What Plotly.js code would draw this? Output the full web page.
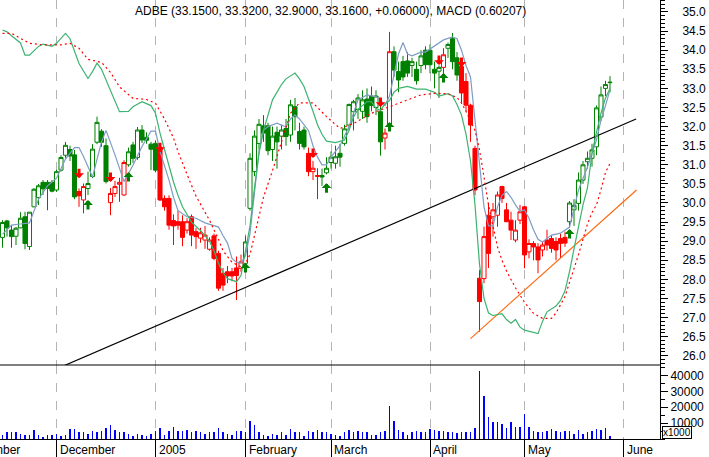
<!DOCTYPE html>
<html><head><meta charset="utf-8">
<script src="https://cdn.plot.ly/plotly-3.0.1.min.js"></script>
<style>html,body{margin:0;padding:0;background:#fff}#chart{width:709px;height:457px}</style>
</head><body><div id="chart"></div>
<script>
// ---------- DATA ----------
const TITLE = 'ADBE (33.1500, 33.3200, 32.9000, 33.1600, +0.06000), MACD (0.60207)';
const FIRST_DATE = '2004-11-12';
const HOLIDAYS = ['2004-11-25','2004-12-24','2005-01-17','2005-02-21','2005-03-25'];
const MONTH_LABELS = ['November','December','2005','February','March','April','May','June'];
const MONTH_KEYS = ['2004-11','2004-12','2005-01','2005-02','2005-03','2005-04','2005-05','2005-06'];

const OPEN = [29.10,29.53,29.29,29.13,29.35,29.64,28.86,29.90,30.14,30.54,30.54,30.54,
30.34,30.86,31.25,31.40,31.26,30.30,30.08,30.38,30.69,31.59,31.88,31.50,30.01,30.25,30.49,30.21,31.00,31.52,31.19,31.91,31.72,31.54,
31.56,31.46,30.12,30.12,29.54,29.51,29.51,29.29,29.64,29.25,29.08,29.03,28.79,29.14,28.68,28.16,28.20,28.20,28.30,28.29,
28.42,29.86,30.82,31.56,32.02,32.02,31.40,31.85,31.75,31.95,31.78,32.52,31.87,31.91,31.30,30.82,30.72,30.72,30.79,
31.06,31.04,31.30,31.56,32.04,32.39,32.45,32.40,32.72,32.80,32.50,32.39,31.70,32.04,33.96,33.44,33.70,33.72,33.60,33.50,33.60,34.00,34.00,
33.50,33.45,33.55,34.05,34.30,33.80,33.57,33.18,32.56,31.43,28.03,28.02,29.68,29.64,29.68,30.43,29.82,29.55,29.03,29.55,
29.90,28.72,28.94,28.85,28.77,29.03,29.07,28.99,29.07,29.10,29.51,29.82,29.99,30.60,31.08,31.17,31.47,32.25,33.00,33.15];
const HIGH = [29.55,29.56,29.40,29.37,29.76,29.77,29.76,30.39,30.50,30.60,30.60,30.60,
30.87,31.25,31.60,31.50,31.39,30.38,30.51,30.82,31.54,32.26,31.93,31.69,30.39,30.58,30.66,31.12,31.45,31.60,31.99,32.04,31.85,31.60,
31.64,31.50,30.20,30.20,29.70,29.80,29.68,29.60,29.70,29.35,29.35,29.40,29.10,29.20,28.75,28.30,28.35,28.30,28.60,28.65,
29.14,31.30,31.90,32.20,32.30,32.10,32.00,32.00,32.05,32.20,32.70,32.75,32.10,32.00,31.45,31.10,30.91,30.90,31.20,
31.35,31.50,31.55,32.05,32.60,32.70,32.85,32.95,33.00,33.05,32.95,32.60,31.95,34.48,34.10,33.70,33.85,33.95,33.80,33.70,34.00,34.10,34.15,
33.70,33.60,34.05,34.20,34.45,33.95,33.70,33.40,32.60,31.50,28.25,29.38,30.00,30.00,30.30,30.45,30.00,29.77,29.55,29.95,
29.92,29.05,29.00,28.95,29.00,29.30,29.15,29.10,29.20,29.25,30.05,30.10,30.80,31.10,31.35,31.55,32.55,33.05,33.20,33.32];
const LOW = [28.83,29.12,28.83,28.90,29.34,28.79,28.77,29.89,29.95,30.21,29.81,30.28,
30.29,30.82,31.18,31.10,30.10,29.90,29.73,30.21,30.65,31.54,31.47,30.51,29.68,30.16,30.03,30.19,30.95,31.05,31.13,31.57,31.55,30.86,
30.80,30.05,29.80,29.30,28.90,29.30,28.87,29.20,28.87,28.80,28.96,28.80,28.75,28.50,27.70,27.70,27.90,27.95,27.46,28.20,
28.40,29.80,30.70,31.40,31.60,31.25,31.10,30.90,31.40,31.50,31.60,31.90,31.40,31.40,30.70,30.60,30.10,30.45,30.75,
30.90,30.90,30.95,31.50,31.90,31.90,32.20,32.20,32.10,32.40,32.30,31.24,31.40,32.00,33.30,32.90,33.20,33.30,33.30,33.10,33.40,33.50,33.40,
33.00,32.75,33.20,33.80,33.50,33.20,32.60,32.40,31.60,30.20,26.63,27.90,28.30,29.12,29.38,30.00,29.50,29.03,28.97,29.45,
28.29,28.55,28.50,28.16,28.60,28.75,28.70,28.50,28.56,28.85,29.35,29.40,29.80,30.50,30.90,30.95,31.25,32.15,32.80,32.90];
const CLOSE = [29.49,29.35,29.12,29.34,29.60,28.94,29.76,30.36,30.45,30.37,30.38,30.31,
30.82,31.19,31.51,31.23,30.16,30.19,30.43,30.51,31.41,32.11,31.59,30.56,30.25,30.43,30.54,31.06,31.34,31.17,31.91,31.65,31.64,31.41,
30.86,30.08,29.90,29.42,29.40,29.42,29.10,29.51,29.16,29.12,29.22,29.16,29.03,28.55,27.77,27.85,28.09,28.09,28.10,28.46,
28.98,31.17,31.75,32.06,31.83,31.37,31.75,31.60,31.91,31.74,32.57,32.26,31.56,31.47,30.82,30.91,30.70,30.68,30.91,
31.20,31.21,31.20,31.94,32.58,32.65,32.75,32.70,32.26,32.55,32.80,31.60,31.83,33.96,33.48,33.22,33.30,33.40,33.70,33.20,33.85,33.62,33.62,
33.40,33.55,33.88,34.15,33.70,33.35,32.88,32.56,32.04,30.34,27.42,29.12,28.68,29.82,30.21,30.12,29.51,29.29,29.29,29.77,
28.64,28.94,28.85,28.51,28.90,28.90,28.81,28.77,28.94,28.95,30.00,29.94,30.60,31.00,31.17,31.39,32.49,32.83,33.10,33.16];
const CANDLE_COLOR = ('gggggggggggg'+'gggggrrgggggrrrrgggggg'+'grrrrrrrrrrrrrrrrrrr'+'ggggggggggggggrrrg'+'gggggggggggggrrgggggggggg'+'grgggrrrrrrrrrrrrrrr'+'rrrrrrrrrgggggggggg').split('');

const VOLUME = [2730,4200,4200,4200,3360,2730,2730,5880,2730,1050,2730,2730,
3360,2100,2730,6510,6510,4200,4200,3360,5250,4200,5250,7140,9030,5880,4200,4620,3360,2100,3360,2730,1680,3360,
5250,7140,2730,5250,7770,5250,5250,5880,4620,5250,4200,3360,4620,4620,7140,4200,3360,2730,5250,5250,
4620,11550,9030,4200,2730,2100,3360,2730,4620,2730,6510,4620,4620,2100,5250,4200,5880,4200,4200,
3360,2730,2100,4200,5880,4200,4830,4620,4200,2730,2730,4200,5250,21000,11550,5880,4200,2730,4200,5250,4620,4200,
6510,5880,5250,5250,4200,4200,3780,4620,4200,4620,7140,43050,27300,14070,10920,10920,9660,7140,10920,7770,7770,
15960,7770,5250,4200,4200,5250,6510,4830,4200,5250,5250,3360,5880,3360,4620,5250,6510,5880,7140,2100];

// indicator lines: day number (0 = first candle) and value
const MA_DAY = [0,2,4,6,8,10,12,14,16,17,18,20,22,23,25,27,29,31,33,34,35,36,37,38,39,41,43,45,47,48,49,50,51,52,53,54,55,56,57,
58,59,61,63,64,65,66,67,68,69,70,71,72,73,75,77,79,81,83,84,85,86,87,88,89,90,91,93,94,96,98,100,101,102,103,
104,105,106,107,108,109,110,111,112,113,114,115,116,117,118,119,120,122,124,126,128,130,132,133,134,135];
const MA_VAL = [29.18,29.42,29.45,29.48,30.10,30.45,30.65,31.15,31.45,31.45,31.22,30.68,31.60,31.90,31.26,30.56,30.99,31.48,31.88,31.88,31.35,31.00,30.60,30.15,29.80,29.64,29.60,29.48,29.40,29.37,29.15,28.95,28.55,28.45,28.43,28.62,29.20,30.30,31.35,
31.90,32.00,32.09,31.99,32.20,32.30,32.20,32.04,31.90,31.50,31.20,31.00,31.00,31.20,31.50,32.00,32.70,32.83,32.78,32.70,32.55,32.80,33.40,33.90,34.20,33.90,33.85,33.95,33.95,34.10,34.27,34.35,34.30,
34.00,33.60,33.30,32.20,31.00,29.90,29.40,29.40,29.90,30.20,30.30,30.15,29.95,29.78,29.82,29.60,29.30,29.05,28.98,29.16,29.21,29.37,30.34,30.94,31.65,32.17,32.55,32.96];

const MACD_DAY = [0,1,2,4,5,6,8,9,11,12,14,15,17,19,20,21,22,24,26,28,29,31,33,34,35,36,37,38,39,40,42,44,46,47,48,49,50,52,53,54,55,
56,57,58,59,60,62,63,65,66,67,68,69,70,71,72,74,76,77,78,79,81,82,83,84,85,86,87,88,90,92,94,96,97,99,100,101,102,103,104,105,
106,107,108,109,110,111,112,113,114,115,116,118,119,120,121,123,124,125,126,127,128,129,130,131,132,133,134,135];
const MACD_VAL = [34.53,34.48,34.38,34.19,33.87,33.87,34.10,34.16,34.10,34.18,34.44,34.30,33.65,33.26,33.44,33.66,33.50,32.93,32.39,32.40,32.52,32.65,32.55,32.35,31.83,31.40,30.95,30.55,30.20,29.90,29.50,29.28,29.00,28.75,28.42,28.18,28.02,27.94,28.10,28.70,29.40,
30.40,31.30,31.90,32.30,32.70,33.10,33.25,33.40,33.25,33.05,32.75,32.40,32.05,31.80,31.62,31.58,31.65,31.90,32.25,32.45,32.65,32.65,32.48,32.42,32.60,32.68,32.90,33.00,33.05,32.98,32.98,32.90,32.80,32.86,
32.80,32.58,32.30,31.80,31.10,29.95,28.40,27.50,27.12,27.05,27.08,27.10,26.95,26.85,26.95,26.75,26.67,26.62,26.58,26.90,27.15,27.30,27.45,27.70,28.20,28.80,29.40,29.95,30.40,31.30,31.85,32.35,32.75,33.00];

const SIGNAL_DAY = [0,2,4,6,9,13,15,17,19,22,24,26,29,32,34,36,38,39,41,43,46,48,49,51,53,54,55,56,57,58,60,62,64,66,69,72,75,78,82,86,90,93,96,99,
101,102,103,104,105,106,107,108,109,110,111,112,114,116,118,120,122,123,125,126,127,128,129,130,131,132,133,134,135];
const SIGNAL_VAL = [34.44,34.44,34.31,34.18,34.14,34.14,34.18,34.05,33.76,33.68,33.42,33.04,32.74,32.71,32.61,32.20,31.70,31.35,30.75,30.18,29.55,29.05,28.75,28.45,28.33,28.42,28.65,29.15,29.65,30.15,30.85,31.60,32.35,32.62,32.62,32.26,31.95,32.08,32.35,32.52,32.70,32.83,32.87,32.86,
32.76,32.62,32.40,32.15,31.90,31.40,30.70,29.95,29.40,28.85,28.50,28.22,27.78,27.40,27.11,26.98,26.98,27.12,27.55,27.90,28.25,28.65,29.05,29.45,29.75,29.95,30.35,30.80,31.04];

// trend lines: [day, price] end points
const TREND_BLACK = {day:[13.0,140.8], price:[25.706,32.20]};
const TREND_ORANGE = {day:[104.0,140.9], price:[26.45,30.34]};

// signal arrows: day number and price of the arrow tip
const SELL_DAY = [17,24,35,69,84,97,102];
const SELL_TIP = [30.65,30.55,31.33,31.18,32.51,33.61,33.56];
const BUY_DAY = [19,28,54,72,86,98,126];
const BUY_TIP = [30.08,30.81,28.43,30.52,32.12,33.40,29.32];

const PRICE_TICKS = [26,26.5,27,27.5,28,28.5,29,29.5,30,30.5,31,31.5,32,32.5,33,33.5,34,34.5,35];
const VOLUME_TICKS = [10000,20000,30000,40000];
const VOLUME_TICK_TEXT = ['10000','20000','30000','40000'];

// ---------- BUILD ----------
function tradingDays(start, end, holidays){
  const out=[]; const d=new Date(start+'T00:00:00Z'); const e=new Date(end+'T00:00:00Z');
  while(d<=e){ const wd=d.getUTCDay(); const s=d.toISOString().slice(0,10);
    if(wd!==0 && wd!==6 && !holidays.includes(s)) out.push(s);
    d.setUTCDate(d.getUTCDate()+1); }
  return out;
}
const DAYS = tradingDays('2004-11-01','2005-06-30',HOLIDAYS);
const base = DAYS.indexOf(FIRST_DATE);
const X = k => base + k;
const monthIdx = MONTH_KEYS.map(m => DAYS.findIndex(s => s.startsWith(m)));
const dec1 = monthIdx[1];
const xmin = dec1 - 12.556, xmax = dec1 + 134.11;

const GREEN = '#008000', RED = '#ff0000';
function candleTrace(col, color){
  const ks = CANDLE_COLOR.map((c,i)=>c===col?i:-1).filter(i=>i>=0);
  return {type:'candlestick', xaxis:'x', yaxis:'y',
    x: ks.map(X), open: ks.map(i=>OPEN[i]), high: ks.map(i=>HIGH[i]), low: ks.map(i=>LOW[i]), close: ks.map(i=>CLOSE[i]),
    increasing:{line:{color:color,width:1}, fillcolor:'#ffffff'},
    decreasing:{line:{color:color,width:1}, fillcolor:color},
    whiskerwidth:0, hoverinfo:'skip'};
}
const traces = [
  {type:'bar', xaxis:'x', yaxis:'y2', x: VOLUME.map((v,i)=>X(i)), y: VOLUME, width:0.3,
   marker:{color:'#0000ff', line:{width:0}}, hoverinfo:'skip'},
  {type:'scatter', mode:'lines', x: TREND_BLACK.day.map(X), y: TREND_BLACK.price, line:{color:'#000000', width:1.2}},
  {type:'scatter', mode:'lines', x: TREND_ORANGE.day.map(X), y: TREND_ORANGE.price, line:{color:'#ff6a10', width:1.2}},
  candleTrace('g', GREEN),
  candleTrace('r', RED),
  {type:'scatter', mode:'lines', x: MA_DAY.map(X), y: MA_VAL, line:{color:'#7f9cc4', width:1.2}},
  {type:'scatter', mode:'lines', x: MACD_DAY.map(X), y: MACD_VAL, line:{color:'#3cb371', width:1.2}},
  {type:'scatter', mode:'lines', x: SIGNAL_DAY.map(X), y: SIGNAL_VAL, line:{color:'#ff0000', width:1.2, dash:'2px,3px'}}
];

const annotations = [];
SELL_DAY.forEach((k,i)=>annotations.push({x:X(k), y:SELL_TIP[i], xref:'x', yref:'y', text:'', showarrow:true,
  arrowhead:1, arrowsize:0.55, arrowwidth:3, arrowcolor:RED, ax:0, ay:-11, standoff:0}));
BUY_DAY.forEach((k,i)=>annotations.push({x:X(k), y:BUY_TIP[i], xref:'x', yref:'y', text:'', showarrow:true,
  arrowhead:1, arrowsize:0.55, arrowwidth:3, arrowcolor:GREEN, ax:0, ay:11, standoff:0}));
MONTH_LABELS.forEach((t,i)=>annotations.push({x:(monthIdx[i]-xmin)/(xmax-xmin), y:-0.026, xref:'paper', yref:'paper',
  text:t, showarrow:false, xanchor:'left', yanchor:'middle', xshift:1, font:{size:12,color:'#000'}}));
annotations.push({x:1, y:0, xref:'paper', yref:'paper', text:'x1000', showarrow:false, xanchor:'left', yanchor:'bottom',
  xshift:2, font:{size:10,color:'#000'}, bordercolor:'#000', borderwidth:1, borderpad:0, bgcolor:'#fff'});
annotations.push({x:0.5, y:1, xref:'paper', yref:'paper', text:TITLE, showarrow:false, xanchor:'center', yanchor:'top', yshift:-2,
  font:{size:12,color:'#000'}});

const volTop = 74/439;
const layout = {
  width:709, height:457, margin:{l:0,r:49,t:0,b:18,pad:0},
  paper_bgcolor:'#ffffff', plot_bgcolor:'#ffffff', showlegend:false,
  font:{family:'"Liberation Sans", Arial, sans-serif', size:12, color:'#000'},
  boxgap:0.1, boxgroupgap:0, bargap:0,
  xaxis:{range:[xmin,xmax], anchor:'y2', tickmode:'array', tickvals:monthIdx, ticktext:monthIdx.map(()=>''),
    ticks:'outside', ticklen:18, tickcolor:'#000', tickwidth:1, showgrid:true, gridcolor:'#b4b4b4', griddash:'dash', gridwidth:1,
    showline:true, linecolor:'#000', linewidth:1, zeroline:false, rangeslider:{visible:false}, fixedrange:true},
  yaxis:{domain:[volTop,1], range:[25.759,35.314], side:'right', anchor:'x', tickmode:'array', tickvals:PRICE_TICKS,
    tickformat:'.1f', ticks:'outside', ticklen:7, tickcolor:'#000', showline:true, linecolor:'#000', showgrid:false, zeroline:false,
    ticklabelstandoff:12, minor:{dtick:0.1, ticklen:4, ticks:'outside', tickcolor:'#000', showgrid:false}, fixedrange:true},
  yaxis2:{domain:[0,volTop], range:[0,46540], side:'right', anchor:'x', tickmode:'array', tickvals:VOLUME_TICKS, ticktext:VOLUME_TICK_TEXT,
    ticks:'outside', ticklen:7, tickcolor:'#000', showline:true, linecolor:'#000', showgrid:false, zeroline:false,
    minor:{dtick:5000, ticklen:4, ticks:'outside', tickcolor:'#000', showgrid:false}, fixedrange:true},
  shapes:[{type:'line', xref:'paper', yref:'paper', x0:0, x1:1, y0:volTop, y1:volTop, line:{color:'#000', width:1}}],
  annotations: annotations
};
Plotly.newPlot('chart', traces, layout, {staticPlot:true, displayModeBar:false});
</script></body></html>
